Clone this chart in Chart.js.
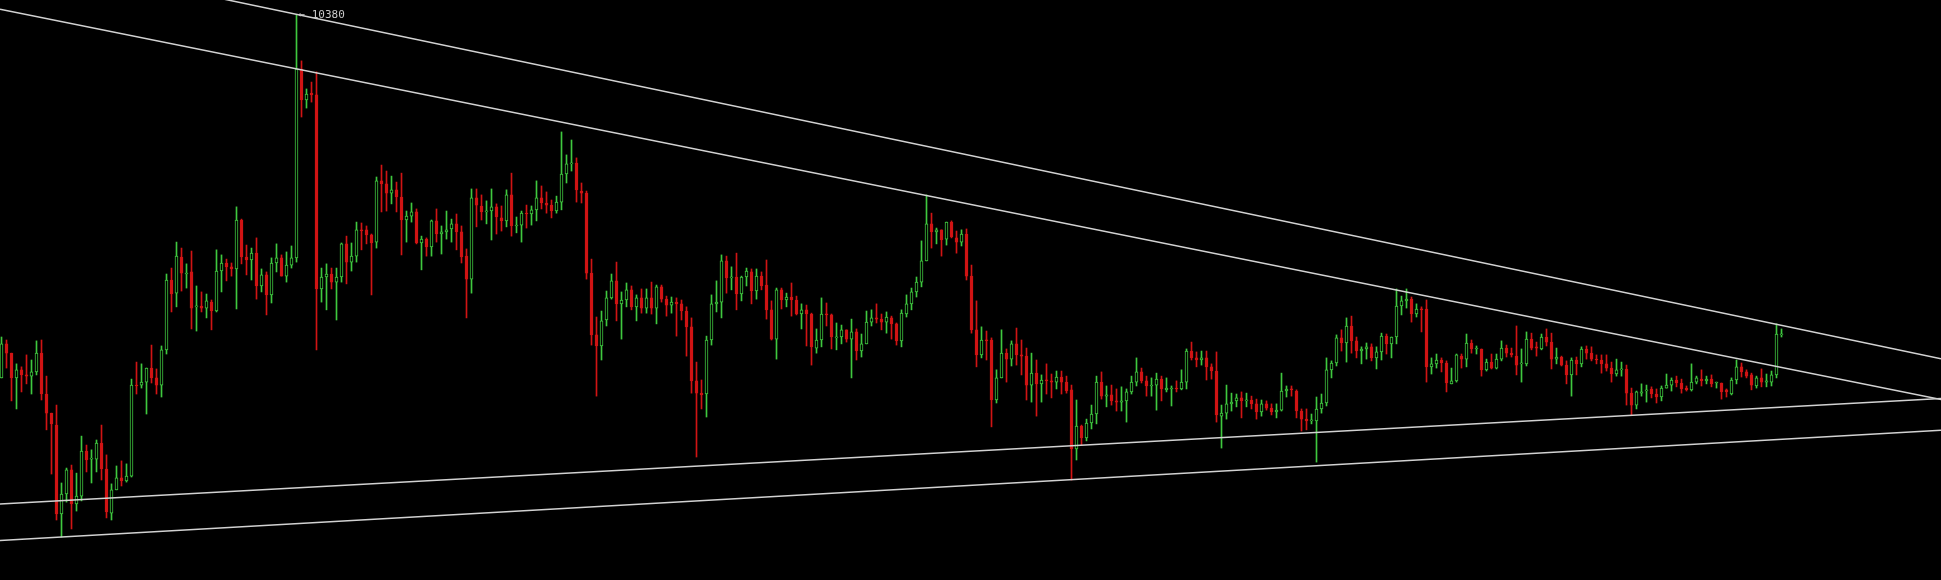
<!DOCTYPE html>
<html>
<head>
<meta charset="utf-8">
<script src="https://cdn.jsdelivr.net/npm/chart.js@4.4.1/dist/chart.umd.min.js"></script>
<style>
  html, body { margin: 0; padding: 0; background: #000; overflow: hidden; }
  #wrap { width: 1941px; height: 580px; }
</style>
</head>
<body>
<div id="wrap"><canvas id="chart" width="1941" height="580"></canvas></div>
<script>
// 4h candles
const opens = [
  9164,9278,9247,9164,9191,9174,9170,9184,9247,9110,
  9046,9006,8708,8775,8856,8742,8768,8919,8892,8892,
  8946,8859,8711,8789,8829,8819,8835,9140,9140,9150,
  9197,9164,9140,9258,9492,9448,9569,9512,9519,9402,
  9405,9398,9418,9388,9522,9549,9536,9529,9693,9569,
  9559,9582,9472,9509,9442,9549,9566,9505,9542,9566,
  10199,10095,10118,10112,9462,9502,9512,9485,9502,9613,
  9552,9572,9660,9660,9643,9619,9824,9814,9783,9794,
  9770,9693,9706,9720,9616,9629,9603,9690,9646,9653,
  9663,9680,9653,9572,9495,9767,9740,9720,9723,9737,
  9700,9690,9777,9673,9676,9716,9713,9727,9767,9750,
  9743,9723,9753,9847,9881,9884,9790,9783,9515,9308,
  9271,9358,9432,9489,9412,9425,9459,9402,9432,9398,
  9432,9398,9469,9428,9408,9418,9412,9388,9335,9154,
  9113,9110,9291,9412,9418,9556,9499,9502,9445,9502,
  9519,9455,9505,9475,9392,9294,9459,9425,9435,9425,
  9378,9392,9378,9264,9291,9378,9375,9298,9301,9325,
  9294,9318,9254,9278,9351,9365,9361,9351,9365,9345,
  9288,9378,9412,9452,9485,9556,9680,9653,9660,9629,
  9686,9633,9619,9646,9505,9325,9241,9291,9291,9090,
  9164,9247,9227,9278,9241,9237,9140,9180,9144,9157,
  9154,9150,9167,9150,9124,8926,9003,8963,9013,9043,
  9150,9103,9107,9087,9083,9087,9117,9150,9184,9154,
  9137,9140,9160,9124,9127,9130,9127,9150,9254,9231,
  9224,9231,9201,9187,9036,9046,9077,9087,9097,9087,
  9090,9077,9050,9077,9063,9050,9056,9120,9127,9120,
  9053,9026,9020,9020,9060,9080,9191,9214,9298,9281,
  9338,9288,9254,9261,9268,9231,9251,9304,9278,9301,
  9405,9422,9428,9378,9395,9395,9201,9211,9224,9214,
  9144,9154,9237,9227,9281,9261,9261,9191,9217,9197,
  9227,9264,9247,9237,9211,9211,9294,9268,9261,9301,
  9284,9227,9234,9207,9174,9224,9211,9261,9247,9227,
  9224,9211,9197,9177,9191,9194,9113,9073,9113,9120,
  9127,9110,9100,9130,9140,9157,9147,9130,9124,9150,
  9160,9154,9160,9147,9147,9124,9110,9157,9201,9184,
  9174,9137,9164,9150,9150,9174,9308
];
const highs = [
  9301,9291,9247,9211,9201,9241,9224,9288,9291,9170,
  9046,9073,8812,8862,8872,8845,8969,8939,8923,8956,
  9006,8906,8809,8869,8886,8876,9160,9217,9211,9197,
  9274,9194,9271,9512,9532,9619,9599,9546,9589,9472,
  9452,9445,9425,9593,9576,9562,9549,9737,9696,9609,
  9599,9633,9529,9519,9566,9613,9576,9586,9606,10380,
  10226,10132,10155,10189,9532,9546,9532,9532,9616,9639,
  9616,9686,9683,9673,9646,9837,9877,9857,9840,9820,
  9850,9723,9750,9730,9639,9633,9693,9730,9673,9723,
  9696,9713,9673,9596,9797,9797,9777,9757,9797,9747,
  9740,9794,9850,9703,9723,9743,9740,9824,9807,9787,
  9760,9773,9988,9911,9961,9901,9817,9790,9562,9368,
  9388,9455,9512,9552,9452,9482,9472,9442,9462,9462,
  9485,9475,9475,9438,9435,9432,9425,9402,9365,9217,
  9157,9304,9442,9489,9576,9572,9536,9582,9505,9532,
  9529,9529,9519,9559,9422,9465,9465,9448,9482,9438,
  9412,9408,9381,9328,9432,9415,9378,9348,9341,9325,
  9361,9328,9311,9388,9392,9412,9378,9385,9371,9348,
  9392,9442,9465,9502,9623,9777,9716,9666,9660,9686,
  9690,9656,9660,9663,9542,9422,9335,9321,9298,9191,
  9325,9261,9288,9331,9291,9264,9247,9224,9174,9211,
  9177,9187,9187,9170,9140,9090,9006,9026,9073,9170,
  9184,9137,9140,9127,9134,9127,9170,9231,9197,9170,
  9164,9180,9170,9164,9137,9154,9191,9261,9284,9251,
  9254,9254,9211,9251,9073,9140,9113,9110,9117,9113,
  9103,9093,9090,9087,9077,9077,9180,9137,9137,9124,
  9060,9060,9043,9100,9110,9231,9221,9308,9325,9365,
  9371,9301,9268,9281,9278,9268,9314,9311,9301,9462,
  9438,9462,9435,9412,9402,9425,9231,9244,9231,9221,
  9197,9244,9244,9311,9291,9271,9261,9227,9244,9244,
  9288,9274,9264,9338,9261,9318,9314,9284,9311,9328,
  9314,9264,9237,9221,9231,9234,9268,9271,9268,9241,
  9241,9241,9217,9227,9217,9207,9130,9120,9144,9140,
  9134,9127,9137,9177,9164,9170,9160,9137,9211,9170,
  9191,9170,9174,9150,9147,9127,9164,9224,9214,9191,
  9180,9170,9194,9177,9187,9345,9328
];
const lows = [
  9164,9197,9087,9060,9117,9144,9110,9174,9090,8990,
  8842,8688,8631,8748,8658,8718,8752,8849,8812,8849,
  8822,8695,8688,8789,8802,8815,8832,9110,9130,9043,
  9147,9110,9100,9244,9385,9402,9455,9465,9328,9321,
  9385,9365,9325,9385,9452,9489,9505,9395,9546,9509,
  9492,9428,9452,9375,9415,9519,9505,9485,9532,9552,
  10038,10068,10088,9258,9418,9392,9462,9358,9485,9479,
  9522,9552,9593,9613,9442,9599,9720,9723,9747,9720,
  9576,9619,9686,9613,9526,9572,9572,9619,9579,9629,
  9619,9593,9549,9365,9448,9670,9693,9680,9626,9646,
  9656,9670,9639,9650,9619,9666,9676,9690,9730,9716,
  9700,9716,9727,9817,9857,9753,9750,9495,9274,9103,
  9224,9338,9428,9355,9294,9402,9392,9355,9381,9381,
  9378,9345,9418,9371,9381,9304,9358,9237,9113,8899,
  9060,9033,9274,9385,9365,9448,9459,9392,9422,9472,
  9412,9428,9459,9361,9291,9227,9395,9402,9371,9375,
  9328,9271,9207,9247,9268,9338,9261,9258,9278,9284,
  9164,9224,9234,9278,9338,9348,9325,9314,9294,9274,
  9268,9368,9392,9435,9469,9556,9599,9613,9572,9609,
  9633,9582,9606,9492,9314,9201,9231,9224,9000,9080,
  9164,9150,9204,9207,9174,9090,9083,9036,9083,9110,
  9097,9127,9110,9113,8822,8889,8939,8953,8993,9010,
  9093,9067,9073,9053,9053,9016,9110,9137,9147,9103,
  9103,9056,9087,9117,9070,9117,9124,9127,9224,9201,
  9207,9157,9160,9016,8929,9026,9053,9067,9030,9067,
  9060,9026,9036,9056,9040,9030,9053,9100,9103,9030,
  8986,8990,9010,8882,9046,9070,9164,9204,9254,9217,
  9247,9231,9211,9227,9221,9194,9224,9244,9231,9278,
  9375,9398,9351,9368,9318,9150,9177,9197,9184,9117,
  9144,9150,9197,9201,9247,9244,9170,9187,9194,9194,
  9221,9234,9234,9174,9150,9204,9258,9237,9258,9271,
  9194,9211,9204,9144,9103,9174,9201,9227,9221,9211,
  9180,9187,9150,9170,9170,9073,9040,9060,9103,9083,
  9097,9080,9087,9130,9120,9134,9113,9120,9120,9144,
  9137,9144,9134,9130,9093,9100,9107,9144,9167,9164,
  9124,9130,9134,9134,9137,9164,9301
];
const closes = [
  9278,9247,9164,9191,9174,9170,9184,9247,9110,9046,
  9010,8708,8775,8856,8742,8768,8919,8889,8893,8946,
  8859,8715,8789,8829,8819,8835,9140,9137,9150,9197,
  9164,9140,9258,9492,9445,9572,9515,9515,9398,9405,
  9398,9422,9388,9522,9549,9536,9529,9693,9569,9559,
  9582,9472,9509,9442,9549,9566,9505,9542,9566,10199,
  10095,10115,10112,9462,9502,9512,9485,9502,9613,9552,
  9572,9660,9656,9643,9616,9824,9814,9783,9794,9770,
  9693,9706,9720,9616,9629,9603,9690,9646,9653,9660,
  9680,9653,9569,9495,9767,9743,9720,9723,9737,9703,
  9690,9777,9673,9676,9716,9713,9727,9767,9750,9743,
  9723,9753,9847,9881,9884,9794,9783,9515,9308,9271,
  9355,9432,9489,9412,9425,9459,9402,9432,9398,9432,
  9398,9469,9428,9408,9418,9412,9388,9335,9154,9113,
  9107,9291,9412,9418,9556,9499,9502,9445,9502,9522,
  9455,9505,9472,9392,9294,9459,9425,9435,9425,9378,
  9392,9378,9268,9291,9378,9375,9301,9301,9325,9294,
  9318,9254,9278,9351,9365,9361,9351,9368,9345,9288,
  9381,9412,9452,9485,9556,9680,9653,9660,9626,9686,
  9636,9619,9646,9505,9325,9241,9291,9288,9090,9164,
  9247,9227,9278,9241,9237,9140,9180,9144,9157,9154,
  9150,9167,9150,9120,8926,9003,8963,9013,9043,9150,
  9103,9107,9087,9083,9087,9117,9150,9184,9154,9137,
  9140,9160,9127,9130,9130,9127,9150,9254,9231,9224,
  9231,9201,9187,9040,9046,9077,9083,9097,9087,9090,
  9077,9050,9077,9063,9050,9056,9120,9127,9124,9053,
  9026,9020,9023,9060,9080,9191,9214,9298,9281,9338,
  9288,9254,9261,9268,9231,9251,9304,9278,9301,9405,
  9422,9428,9378,9395,9392,9201,9211,9224,9214,9147,
  9154,9241,9227,9281,9261,9264,9191,9217,9197,9227,
  9264,9247,9241,9207,9214,9294,9264,9264,9301,9284,
  9227,9234,9207,9174,9224,9211,9261,9247,9227,9224,
  9211,9197,9177,9191,9194,9113,9073,9117,9117,9124,
  9110,9100,9130,9140,9157,9147,9127,9124,9150,9164,
  9154,9160,9144,9150,9117,9117,9157,9201,9184,9170,
  9140,9164,9150,9154,9174,9311,9311
];

// trend lines: price at the left and right edge of the view
const lineStart = -0.3;
const lineEnd = 387.9;
const lineLeft = [10590, 10399, 8742, 8619];
const lineRight = [9228, 9092, 9095, 8989];

const UP = '#3fc83f';
const DOWN = '#d01414';
const LINE = '#d2d2d2';

const idx = opens.map((_, i) => i);
const colors = idx.map(i => (closes[i] >= opens[i] ? UP : DOWN));

const wicks = idx.map(i => ({ x: i, y: [lows[i], highs[i]] }));
const bodies = idx.map(i => ({ x: i, y: [opens[i], closes[i]] }));

const trendSets = lineLeft.map((p, k) => ({
  type: 'line',
  data: [{ x: lineStart, y: p }, { x: lineEnd, y: lineRight[k] }],
  borderColor: LINE,
  borderWidth: 1.5,
  pointRadius: 0,
  order: 0,
}));

// "← 10380" next to the highest wick
const peakLabel = {
  id: 'peakLabel',
  afterDatasetsDraw(chart) {
    const { ctx, scales } = chart;
    let top = 0;
    highs.forEach((h, i) => { if (h > highs[top]) top = i; });
    const x = scales.x.getPixelForValue(top);
    const y = scales.y.getPixelForValue(highs[top]);
    ctx.save();
    ctx.font = '11px "DejaVu Sans Mono", monospace';
    ctx.fillStyle = '#c8c8c8';
    ctx.textBaseline = 'middle';
    ctx.fillText('\u2190 ' + highs[top], x + 2, y);
    ctx.restore();
  },
};

const ctx = document.getElementById('chart').getContext('2d');
new Chart(ctx, {
  type: 'bar',
  data: {
    datasets: [
      {
        data: bodies,
        backgroundColor: colors.map(c => (c === UP ? '#000' : c)),
        borderColor: colors,
        borderWidth: 1,
        borderSkipped: false,
        barThickness: 3,
        minBarLength: 1,
        grouped: false,
        order: 1,
      },
      {
        data: wicks,
        backgroundColor: colors,
        borderWidth: 0,
        barThickness: 1,
        grouped: false,
        order: 2,
      },
      ...trendSets,
    ],
  },
  options: {
    responsive: false,
    animation: false,
    devicePixelRatio: 1,
    layout: { padding: 0 },
    plugins: {
      legend: { display: false },
      tooltip: { enabled: false },
    },
    scales: {
      x: { type: 'linear', min: lineStart, max: lineEnd, offset: false, display: false },
      y: { min: 8487, max: 10430, display: false },
    },
  },
  plugins: [peakLabel],
});
</script>
</body>
</html>
